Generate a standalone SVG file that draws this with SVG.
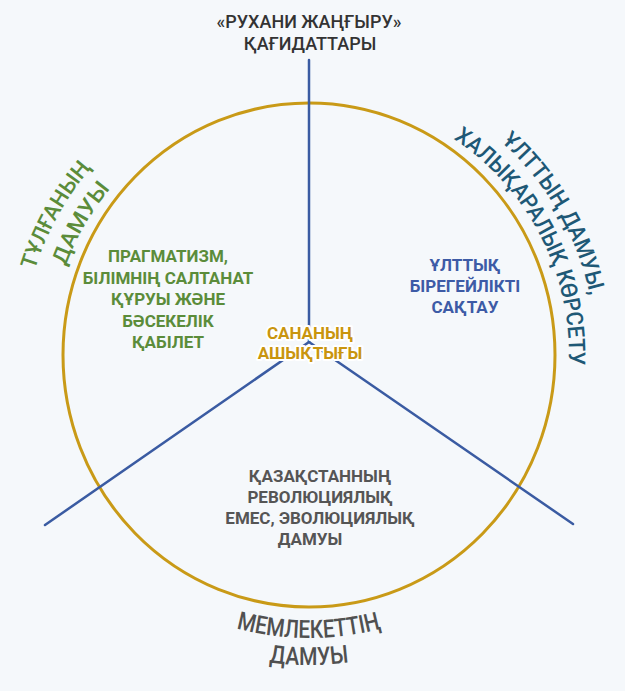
<svg xmlns="http://www.w3.org/2000/svg" width="625" height="691" viewBox="0 0 625 691">
<defs>
<style>
.top{font-family:Roboto,"Liberation Sans",sans-serif;font-weight:500;font-size:18px;fill:#333;text-anchor:middle}
.in{font-family:Roboto,"Liberation Sans",sans-serif;font-weight:700;font-size:17px;text-anchor:middle}
.arc{font-family:Roboto,"Noto Sans","Liberation Sans",sans-serif;font-weight:500;text-anchor:middle}
.conn{stroke:#3A5BA2;stroke-width:2.5;fill:none;stroke-linecap:round}
</style>
<path id="pL1" d="M33.1,434.1 A287,287 0 0 1 229.9,79.1"/>
<path id="pL2" d="M58.8,422 A259,259 0 0 1 242,104.8"/>
<path id="pR1" d="M383.3,77.8 A287,287 0 0 1 586.2,429.3"/>
<path id="pR2" d="M389.3,107.7 A260,260 0 0 1 556.3,435.3"/>
<path id="pB1" d="M108.9,555.1 A283,283 0 0 0 509.1,555.1"/>
<path id="pB2" d="M89.8,574.2 A310,310 0 0 0 528.2,574.2"/>
</defs>
<rect width="625" height="691" fill="#F5F8FB"/>
<g id="circle">
<ellipse cx="309" cy="355" rx="246" ry="252" fill="none" stroke="#C99A17" stroke-width="3"/>
</g>
<g id="connectors">
<line class="conn" x1="309" y1="60" x2="309" y2="342"/>
<line class="conn" x1="309" y1="342" x2="45" y2="525"/>
<line class="conn" x1="309" y1="342" x2="573" y2="524"/>
</g>
<g id="top-label">
<text class="top" x="309" y="28">«РУХАНИ ЖАҢҒЫРУ»</text>
<text class="top" x="310" y="50">ҚАҒИДАТТАРЫ</text>
</g>
<g id="left-arc-label" class="arc" fill="#5B8C3A" font-size="22">
<text><textPath href="#pL1" startOffset="50%" textLength="118" lengthAdjust="spacingAndGlyphs">ТҰЛҒАНЫҢ</textPath></text>
<text><textPath href="#pL2" startOffset="50%" textLength="90" lengthAdjust="spacingAndGlyphs">ДАМУЫ</textPath></text>
</g>
<g id="right-arc-label" class="arc" fill="#1E5876" font-size="23">
<text><textPath href="#pR1" startOffset="50%" textLength="181" lengthAdjust="spacingAndGlyphs">ҰЛТТЫҢ ДАМУЫ,</textPath></text>
<text><textPath href="#pR2" startOffset="50%" textLength="265" lengthAdjust="spacingAndGlyphs">ХАЛЫҚАРАЛЫҚ КӨРСЕТУ</textPath></text>
</g>
<g id="bottom-arc-label" class="arc" fill="#505050" font-size="25">
<text><textPath href="#pB1" startOffset="50%" textLength="147" lengthAdjust="spacingAndGlyphs">МЕМЛЕКЕТТІҢ</textPath></text>
<text><textPath href="#pB2" startOffset="50%" textLength="80" lengthAdjust="spacingAndGlyphs">ДАМУЫ</textPath></text>
</g>
<g id="node-green" class="in" fill="#5B8C3A">
<text x="168" y="262">ПРАГМАТИЗМ,</text>
<text x="168" y="283.5">БІЛІМНІҢ САЛТАНАТ</text>
<text x="168" y="305">ҚҰРУЫ ЖӘНЕ</text>
<text x="168" y="326.5">БӘСЕКЕЛІК</text>
<text x="168" y="348">ҚАБІЛЕТ</text>
</g>
<g id="node-blue" class="in" fill="#3D5BA6" font-size="16.5">
<text x="465" y="271">ҰЛТТЫҚ</text>
<text x="465" y="292">БІРЕГЕЙЛІКТІ</text>
<text x="465" y="313">САҚТАУ</text>
</g>
<g id="node-center" class="in" fill="#C9950E" stroke="#fff" stroke-width="4" stroke-linejoin="round" paint-order="stroke">
<text x="310" y="339">САНАНЫҢ</text>
<text x="310" y="359">АШЫҚТЫҒЫ</text>
</g>
<g id="node-gray" class="in" fill="#555" font-size="16.5">
<text x="320" y="482">ҚАЗАҚСТАННЫҢ</text>
<text x="320" y="503">РЕВОЛЮЦИЯЛЫҚ</text>
<text x="320" y="524">ЕМЕС, ЭВОЛЮЦИЯЛЫҚ</text>
<text x="310" y="545">ДАМУЫ</text>
</g>
</svg>
